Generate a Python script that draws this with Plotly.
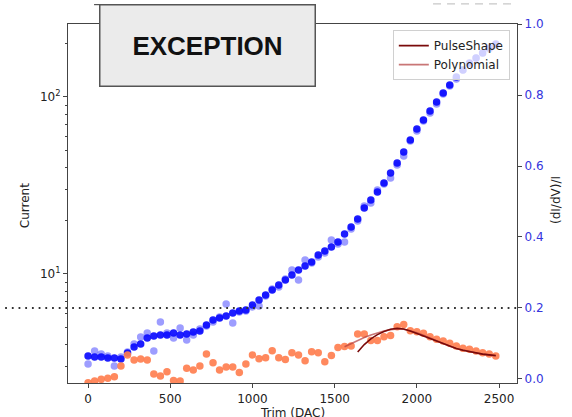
import plotly.graph_objects as go

# Trim settings (DAC) shared by every scan point
trim = [0, 40, 80, 120, 160, 200, 240, 280, 320, 360, 400, 440, 480, 520, 560,
        600, 640, 680, 720, 760, 800, 840, 880, 920, 960, 1000, 1040, 1080, 1120,
        1160, 1200, 1240, 1280, 1320, 1360, 1400, 1440, 1480, 1520, 1560, 1600,
        1640, 1680, 1720, 1760, 1800, 1840, 1880, 1920, 1960, 2000, 2040, 2080,
        2120, 2160, 2200, 2240, 2280, 2320, 2360, 2400, 2440, 2480]

# Measured current, main scan
current = [3.44, 3.40, 3.40, 3.35, 3.35, 3.31, 3.58, 3.87, 4.02, 4.35, 4.46, 4.52,
           4.52, 4.64, 4.52, 4.58, 4.70, 4.76, 5.15, 5.50, 5.64, 5.79, 6.02, 6.18,
           6.26, 6.68, 7.13, 7.61, 8.12, 8.67, 9.25, 9.87, 10.53, 11.10, 11.69,
           12.80, 13.49, 14.21, 15.17, 16.83, 18.43, 20.46, 23.60, 26.19, 29.06,
           32.67, 37.21, 42.38, 48.90, 57.17, 65.96, 74.17, 83.35, 93.72, 105.3,
           116.9, 129.7, 142.1, 155.7, 166.1, 177.3, 189.2, 199.3]

# Measured current, repeat scan
current_repeat = [3.10, 3.67, 3.53, 3.44, 3.02, 3.40, 3.62, 4.02, 4.41, 4.64, 3.67,
                  5.36, 4.64, 4.35, 4.95, 4.24, 4.52, 4.89, 5.08, 5.36, 5.72, 6.77,
                  5.29, 6.10, 6.18, 6.51, 6.60, 7.51, 8.23, 8.45, 9.37, 10.53, 9.25,
                  12.00, 11.54, 12.47, 13.14, 15.57, 14.77, 15.17, 17.96, 19.93,
                  24.22, 25.18, 29.83, 32.25, 34.86, 41.29, 46.42, 56.42, 64.27,
                  73.18, 81.21, 91.31, 103.97, 115.39, 126.4, 142.1, 153.6, 166.1,
                  177.3, 186.7, 196.7]

# Normalised derivative (dI/dV)/I
dlog = [-0.0104, -0.0056, -0.0008, 0.0020, 0.0065, 0.0366, 0.0676, 0.0535, 0.0563,
        0.0535, 0.0141, 0.0085, 0.0206, -0.0042, -0.0056, 0.0301, 0.0254, 0.0366,
        0.0704, 0.0459, 0.0254, 0.0338, 0.0338, 0.0183, 0.0423, 0.0676, 0.0572,
        0.0597, 0.0797, 0.0600, 0.0549, 0.0741, 0.0676, 0.0515, 0.0769, 0.0741,
        0.0487, 0.0662, 0.0887, 0.0915, 0.0930, 0.1268, 0.1268, 0.1085, 0.1085,
        0.1192, 0.1225, 0.1473, 0.1535, 0.1361, 0.1332, 0.1287, 0.1192, 0.1118,
        0.1070, 0.1006, 0.0930, 0.0865, 0.0837, 0.0789, 0.0741, 0.0704, 0.0648]

# Fitted models of the derivative peak
pulse_trim = [1640, 1680, 1720, 1760, 1800, 1840, 1880, 1920, 1960, 2000, 2040,
              2080, 2120, 2160, 2200, 2240, 2280, 2320, 2360, 2400, 2440, 2480]
pulse_fit = [0.076, 0.097, 0.113, 0.125, 0.134, 0.140, 0.143, 0.141, 0.135, 0.128,
             0.121, 0.113, 0.106, 0.098, 0.091, 0.086, 0.081, 0.077, 0.073, 0.070,
             0.068, 0.066]
poly_trim = [1560, 1600, 1640, 1680, 1720, 1760, 1800, 1840, 1880, 1920, 1960,
             2000, 2040, 2080, 2120, 2160, 2200, 2240, 2280, 2320, 2360, 2400,
             2440, 2480]
poly_fit = [0.091, 0.100, 0.109, 0.117, 0.124, 0.130, 0.135, 0.139, 0.141, 0.140,
            0.136, 0.130, 0.123, 0.115, 0.107, 0.099, 0.092, 0.086, 0.081, 0.077,
            0.073, 0.070, 0.067, 0.065]

threshold = 0.2
y2_range = [-0.0113, 1.0]
font = "DejaVu Sans"
axis_col = "#444444"

fig = go.Figure()
fig.add_trace(go.Scatter(x=trim, y=current_repeat, mode="markers", showlegend=False,
                         marker=dict(size=7.5, color="rgba(10,10,255,0.4)")))
fig.add_trace(go.Scatter(x=trim, y=current, mode="markers", showlegend=False,
                         marker=dict(size=7.5, color="rgba(10,10,255,0.92)")))
fig.add_trace(go.Scatter(x=trim, y=dlog, mode="markers", showlegend=False, yaxis="y2",
                         marker=dict(size=7.5, color="rgba(255,127,80,0.92)")))
fig.add_trace(go.Scatter(x=poly_trim, y=poly_fit, mode="lines", name="Polynomial",
                         yaxis="y2", line=dict(color="rgba(178,60,60,0.7)", width=1.6)))
fig.add_trace(go.Scatter(x=pulse_trim, y=pulse_fit, mode="lines", name="PulseShape",
                         yaxis="y2", line=dict(color="#7a0a0a", width=1.6)))

minor_vals = [3, 4, 5, 6, 7, 8, 9, 20, 30, 40, 50, 60, 70, 80, 90, 200]

fig.update_layout(
    width=572, height=417,
    margin=dict(l=68, r=55, t=24, b=34),
    paper_bgcolor="white", plot_bgcolor="white",
    font=dict(family=font, size=12, color="#222222"),
    xaxis=dict(range=[-122, 2609], tickvals=[0, 500, 1000, 1500, 2000, 2500],
               ticks="outside", ticklen=4, tickcolor=axis_col, showgrid=False,
               zeroline=False, showline=True, linecolor=axis_col, linewidth=1.2,
               mirror=True, tickfont=dict(size=12, color="#222222")),
    yaxis=dict(type="log", range=[0.384, 2.412], tickvals=[10, 100],
               ticktext=["10<sup>1</sup>", "10<sup>2</sup>"],
               ticks="outside", ticklen=4, tickcolor=axis_col, showgrid=False,
               zeroline=False, showline=True, linecolor=axis_col, linewidth=1.2,
               tickfont=dict(size=12, color="#222222"),
               minor=dict(tickvals=minor_vals, ticks="outside", ticklen=2,
                          tickcolor=axis_col, showgrid=False)),
    yaxis2=dict(overlaying="y", side="right", range=y2_range,
                tickvals=[0.0, 0.2, 0.4, 0.6, 0.8, 1.0],
                ticktext=["0.0", "0.2", "0.4", "0.6", "0.8", "1.0"],
                ticks="outside", ticklen=4, tickcolor=axis_col, showgrid=False,
                zeroline=False, showline=True, linecolor=axis_col, linewidth=1.2,
                tickfont=dict(size=12, color="#3535dd")),
    legend=dict(x=0.984, y=0.983, xanchor="right", yanchor="top",
                bgcolor="rgba(255,255,255,0.8)", bordercolor="#d0d0d0", borderwidth=1,
                font=dict(size=12, color="#222222"), traceorder="reversed",
                tracegroupgap=0),
)

# threshold marker on the derivative axis, running past the left spine
thr_paper = (threshold - y2_range[0]) / (y2_range[1] - y2_range[0])
fig.add_shape(type="line", xref="paper", yref="paper", x0=-0.14, x1=1.0,
              y0=thr_paper, y1=thr_paper, layer="above",
              line=dict(color="#333333", width=1.8, dash="1.8px,4.9px"))

# faint decorations along the top edge
fig.add_shape(type="line", xref="paper", yref="paper", x0=0.058, x1=0.075,
              y0=1.054, y1=1.054, line=dict(color="#555555", width=1.2))
fig.add_shape(type="line", xref="paper", yref="paper", x0=0.813, x1=1.0,
              y0=1.056, y1=1.056, line=dict(color="#c8c8c8", width=1.2, dash="8px,6px"))

# status banner
fig.add_annotation(text="<b>EXCEPTION</b>", xref="paper", yref="paper",
                   x=0.3118, y=0.9415, xanchor="center", yanchor="middle",
                   showarrow=False, width=214, height=80, bgcolor="#ebebeb",
                   bordercolor="#555555", borderwidth=1.5, borderpad=0,
                   font=dict(family="Liberation Sans", size=26, color="#111111"))

# axis titles
fig.add_annotation(text="Current", xref="paper", yref="paper", x=-0.096, y=0.495,
                   showarrow=False, textangle=-90, xanchor="center", yanchor="middle",
                   font=dict(size=12, color="#222222"))
fig.add_annotation(text="(dI/dV)/I", xref="paper", yref="paper", x=1.087, y=0.51,
                   showarrow=False, textangle=-90, xanchor="center", yanchor="middle",
                   font=dict(size=12, color="#222222"))
fig.add_annotation(text="Trim (DAC)", xref="paper", yref="paper", x=0.5, y=-0.084,
                   showarrow=False, xanchor="center", yanchor="middle",
                   font=dict(size=12, color="#222222"))

fig.write_html("out.html")
